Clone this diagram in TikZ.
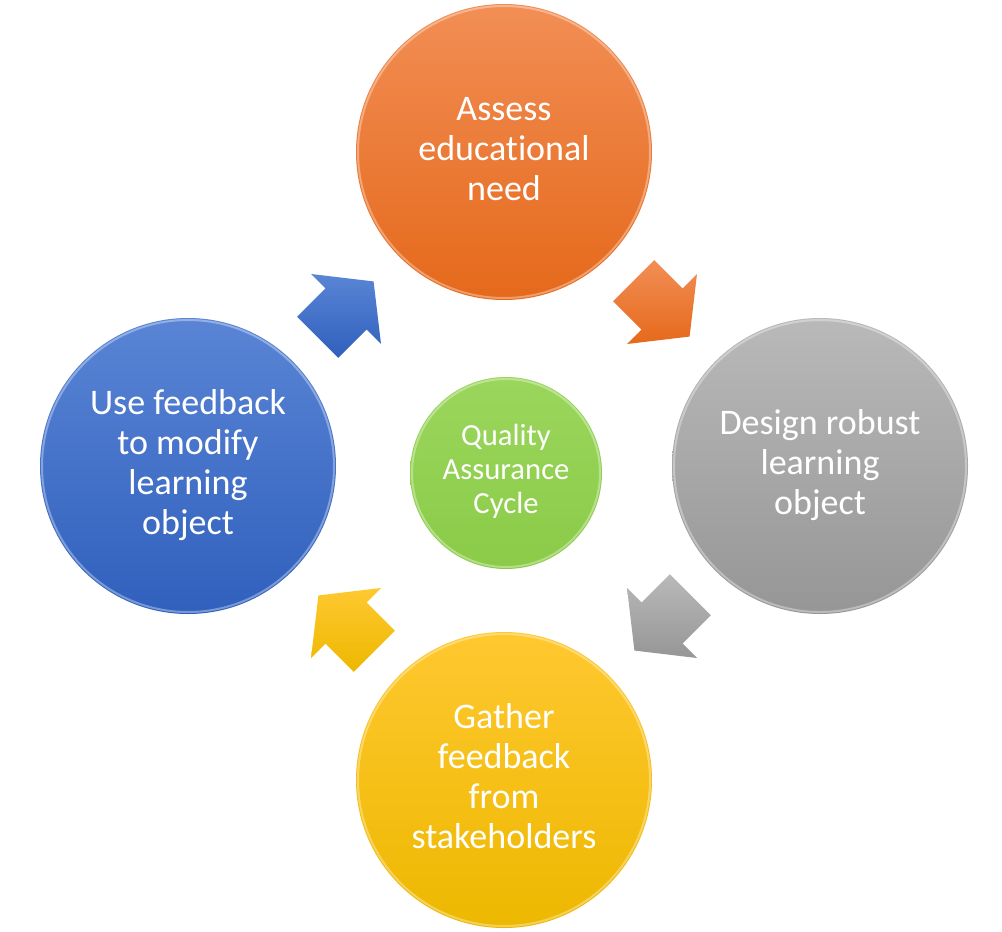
\documentclass[tikz,border=0pt]{standalone}
\usepackage{fontspec}
\setmainfont{Carlito}[Ligatures={NoCommon}]
\usetikzlibrary{calc}
\definecolor{orgT}{HTML}{F28E55}
\definecolor{orgB}{HTML}{E5691B}
\definecolor{gryT}{HTML}{B9B9B9}
\definecolor{gryB}{HTML}{969696}
\definecolor{yelT}{HTML}{FFC830}
\definecolor{yelB}{HTML}{EDB800}
\definecolor{bluT}{HTML}{5A85D5}
\definecolor{bluB}{HTML}{3060BD}
\definecolor{grnT}{HTML}{9AD65C}
\definecolor{grnB}{HTML}{8BCB48}
\begin{document}
\begin{tikzpicture}[x=0.75pt,y=0.75pt,
  stage/.style={circle, minimum size=222pt, inner sep=0pt, align=center,
    text=white, font=\fontsize{27pt}{30pt}\selectfont},
  hub/.style={circle, minimum size=144pt, inner sep=0pt, align=center,
    text=white, font=\fontsize{23pt}{25.5pt}\selectfont},
  rim/.style={draw=white, draw opacity=0.35, line width=1.5pt},
  blockarrow/.style={draw=none}
]
\useasboundingbox[fill=white] (0,0) rectangle (1002,-931);

\node[stage, top color=orgT, bottom color=orgB] (assess) at (504,-152)
  {\strut Assess\\\strut educational\\\strut need};
\node[stage, top color=gryT, bottom color=gryB] (design) at (820,-466)
  {\strut Design robust\\\strut learning\\\strut object};
\node[stage, top color=yelT, bottom color=yelB] (gather) at (504,-780)
  {\strut Gather\\\strut feedback\\\strut from\\\strut stakeholders};
\node[stage, top color=bluT, bottom color=bluB] (use) at (188,-466)
  {\strut Use feedback\\\strut to modify\\\strut learning\\\strut object};
\node[hub, top color=grnT, bottom color=grnB] (qa) at (506,-473)
  {\strut Quality\\\strut Assurance\\\strut Cycle};

\foreach \n/\r in {assess/146, design/146, gather/146, use/146, qa/94}
  \draw[rim] (\n.center) circle[radius=\r];

\foreach \a/\b/\ang/\ct/\cb in {assess/design/-45/orgT/orgB, design/gather/-135/gryT/gryB,
    gather/use/135/yelT/yelB, use/assess/45/bluT/bluB}{
  \begin{scope}[shift={($(\a.center)!0.5!(\b.center)$)}, rotate=\ang]
    \path[blockarrow, top color=\ct, bottom color=\cb]
      (-40,29) -- (0,29) -- (0,49.5) -- (39,0) -- (0,-49.5) -- (0,-29) -- (-40,-29) -- cycle;
  \end{scope}
}
\end{tikzpicture}
\end{document}
